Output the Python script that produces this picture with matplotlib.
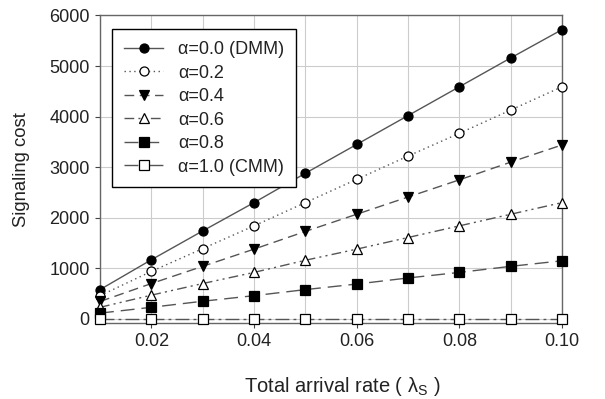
import matplotlib
matplotlib.use("Agg")
import matplotlib.pyplot as plt

plt.rcParams['font.family'] = ['Liberation Sans', 'DejaVu Sans']

rate = [0.01, 0.02, 0.03, 0.04, 0.05, 0.06, 0.07, 0.08, 0.09, 0.10]
a00 = [580, 1170, 1740, 2300, 2880, 3450, 4020, 4590, 5160, 5720]
a02 = [460, 940, 1390, 1840, 2300, 2760, 3220, 3670, 4130, 4590]
a04 = [345, 700, 1040, 1380, 1730, 2070, 2410, 2750, 3100, 3440]
a06 = [230, 470, 700, 920, 1160, 1380, 1610, 1840, 2070, 2300]
a08 = [115, 230, 350, 460, 580, 690, 810, 920, 1040, 1150]
a10 = [5, 5, 5, 5, 5, 5, 5, 5, 5, 5]
labels = ['α=0.0 (DMM)', 'α=0.2', 'α=0.4', 'α=0.6', 'α=0.8', 'α=1.0 (CMM)']

fig = plt.figure(figsize=(6.05, 3.99), dpi=100)
ax = fig.add_axes([0.1653, 0.1905, 0.7636, 0.7707])

lc = '#555555'
styles = [
    dict(ls='-', marker='o', mfc='black'),
    dict(ls=(0, (1, 2.5)), marker='o', mfc='white'),
    dict(ls=(0, (7, 4)), marker='v', mfc='black'),
    dict(ls=(0, (7, 3, 1.5, 3, 1.5, 3)), marker='^', mfc='white'),
    dict(ls=(0, (10, 5)), marker='s', mfc='black'),
    dict(ls=(0, (10, 3, 2, 3)), marker='s', mfc='white'),
]
series = [a00, a02, a04, a06, a08, a10]
for y, st, lab in zip(series, styles, labels):
    ax.plot(rate, y, color=lc, lw=1.0, ls=st['ls'], marker=st['marker'],
            mfc=st['mfc'], mec='black', mew=0.9, ms=6.5, label=lab,
            clip_on=False, zorder=3)

ax.set_xlim(0.01, 0.10)
ax.set_ylim(-80, 6000)
ax.set_xticks([0.02, 0.04, 0.06, 0.08, 0.10])
ax.set_xticklabels(['0.02', '0.04', '0.06', '0.08', '0.10'])
ax.set_xticks([0.01, 0.03, 0.05, 0.07, 0.09], minor=True)
ax.set_yticks([0, 1000, 2000, 3000, 4000, 5000, 6000])
ax.grid(True, which='both', color='#cccccc', lw=0.8)
ax.set_axisbelow(True)
ax.tick_params(direction='out', labelsize=13, length=3.5, color='#444444', pad=4,
               labelcolor='#222222')
ax.tick_params(which='minor', length=0)
for s in ax.spines.values():
    s.set_color('#666666')
    s.set_linewidth(1.0)

ax.set_xlabel('Total arrival rate ( λ$_{\\mathregular{S}}$ )', fontsize=14.5,
              color='#222222')
ax.xaxis.set_label_coords(0.524, -0.169)
ax.set_ylabel('Signaling cost', fontsize=13.3, color='#222222')
ax.yaxis.set_label_coords(-0.152, 0.5)

leg = ax.legend(loc='upper left', bbox_to_anchor=(0.026, 0.955), fontsize=13,
                frameon=True, fancybox=False, edgecolor='black', framealpha=1,
                handlelength=2.2, handletextpad=0.8, borderpad=0.65,
                labelspacing=0.36, borderaxespad=0)
leg.get_frame().set_linewidth(1.0)
for t in leg.get_texts():
    t.set_color('#222222')

fig.savefig('out.png', dpi=100)
